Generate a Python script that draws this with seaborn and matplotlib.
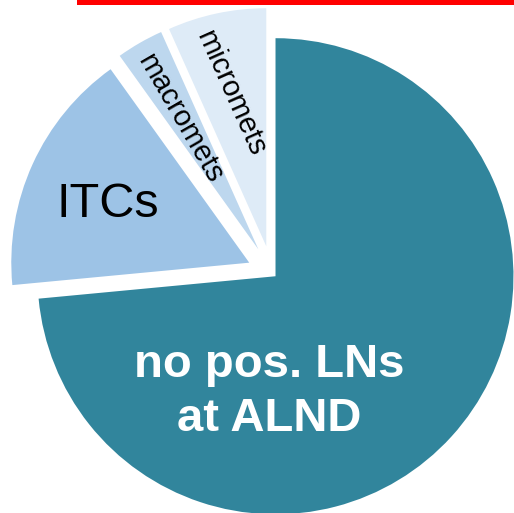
"""
Pie chart of axillary lymph node findings, exploded small slices
"""

import matplotlib
matplotlib.use("Agg")
import matplotlib.pyplot as plt
from matplotlib.patches import Rectangle
import seaborn as sns

# data (share of patients)
categories = ["no pos. LNs\nat ALND", "ITCs", "macromets", "micromets"]
shares = [73.5, 16.6, 3.2, 6.7]
colors = ["#31859C", "#9DC3E6", "#BDD7EE", "#DEEBF7"]
explode = [0.02, 0.105, 0.115, 0.115]

sns.set_theme(style="white")
plt.rcParams["font.family"] = ["Liberation Sans", "DejaVu Sans"]

fig = plt.figure(figsize=(5.14, 5.13), dpi=100)
ax = fig.add_axes([0, 0, 1, 1])

wedges, _ = ax.pie(shares, colors=colors, explode=explode, startangle=90,
                   counterclock=False, radius=1.0,
                   wedgeprops=dict(linewidth=0))

ax.set_xlim(-1.143, 1.017)
ax.set_ylim(-1.008, 1.147)
ax.set_aspect("auto")
ax.axis("off")

# slice labels
ax.text(-0.013, -0.50, categories[0], ha="center", va="center",
        color="white", fontsize=34, fontweight="bold", linespacing=1.28)
ax.text(-0.689, 0.286, categories[1], ha="center", va="center",
        color="black", fontsize=35)
ax.text(-0.387, 0.651, categories[2], ha="center", va="center",
        color="black", fontsize=21, rotation=-60, rotation_mode="anchor")
ax.text(-0.175, 0.756, categories[3], ha="center", va="center",
        color="black", fontsize=21, rotation=-66, rotation_mode="anchor")

# red bar cut off at the top edge
fig.add_artist(Rectangle((77 / 514, 1 - 5 / 513), 1.0, 5 / 513,
                         transform=fig.transFigure, color="#FF0000", lw=0))

fig.savefig("out.png", dpi=100)
